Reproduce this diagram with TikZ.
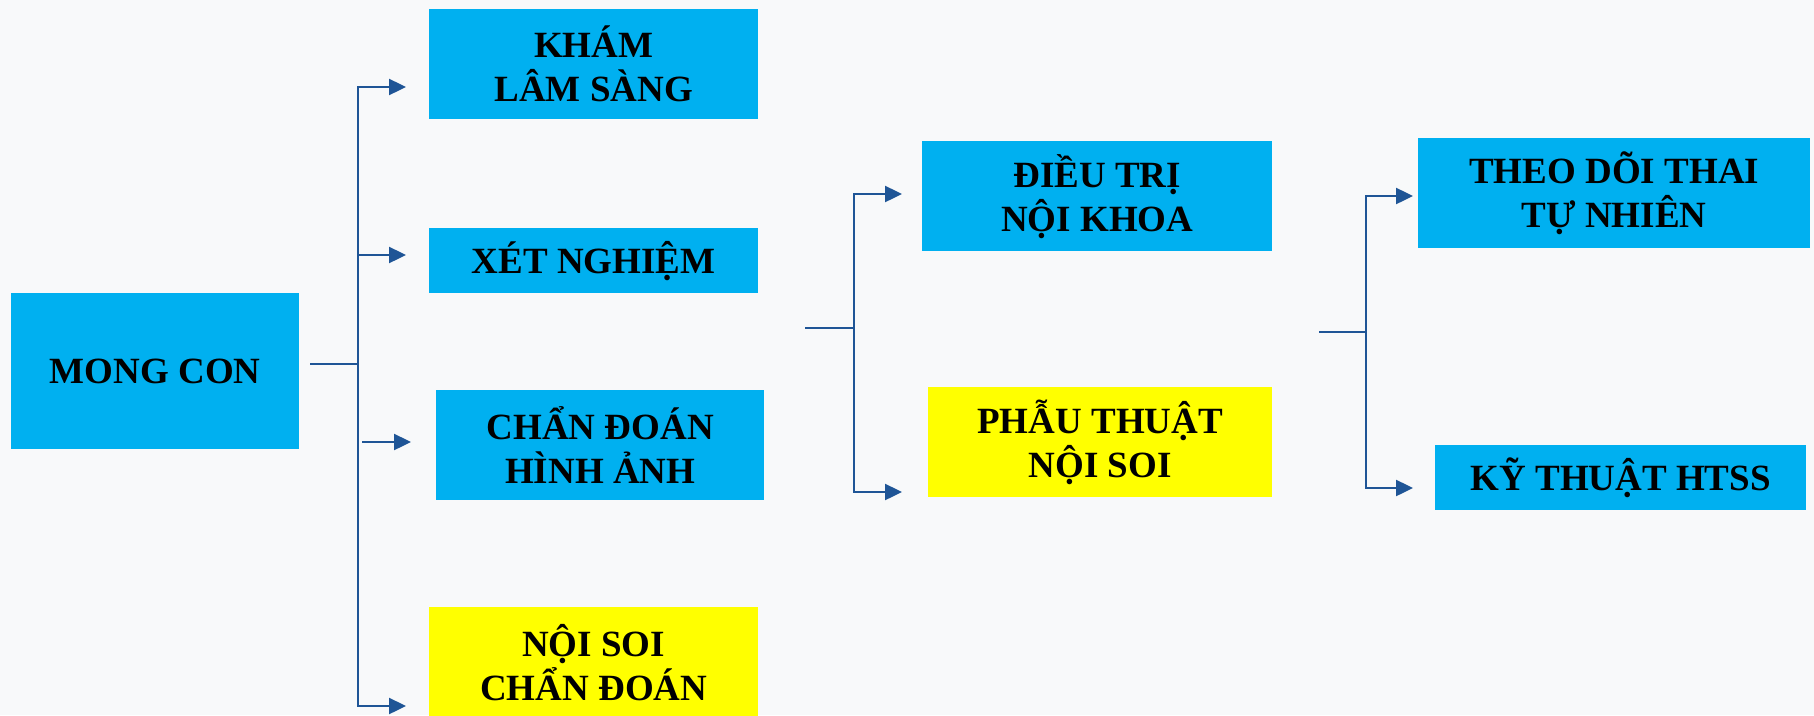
\documentclass[tikz,border=0pt]{standalone}
\usepackage{fontspec}
\setmainfont{Liberation Serif}
\usetikzlibrary{arrows.meta}
\definecolor{boxblue}{HTML}{00B0F0}
\definecolor{boxyellow}{HTML}{FFFF00}
\definecolor{linkblue}{HTML}{1F5596}
\definecolor{bgcol}{HTML}{F8F9FA}
\begin{document}
\begin{tikzpicture}[x=1pt,y=-1pt,
  box/.style={draw=none, inner sep=0pt, align=center, anchor=north west,
    font=\fontsize{37}{44}\selectfont\bfseries, text=black},
  bluebox/.style={box, fill=boxblue},
  yellowbox/.style={box, fill=boxyellow},
  stub/.style={draw=linkblue, line width=1.6pt},
  trunk/.style={draw=linkblue, line width=2.4pt, line cap=rect},
  arr/.style={draw=linkblue, line width=2.4pt, -{Triangle[length=17pt,width=16pt]}}]
\useasboundingbox (0,0) rectangle (1814,715);
\clip (0,0) rectangle (1814,715);
\fill[bgcol] (0,0) rectangle (1814,715);

% boxes
\node[bluebox, minimum width=288pt, minimum height=156pt] (mong) at (11,293) {MONG CON};
\node[bluebox, minimum width=329pt, minimum height=110pt] (kham) at (429,9) {KHÁM\\LÂM SÀNG};
\node[bluebox, minimum width=329pt, minimum height=65pt] (xet) at (429,228) {XÉT NGHIỆM};
\node[bluebox, minimum width=328pt, minimum height=110pt] (chan) at (436,390) {CHẨN ĐOÁN\\HÌNH ẢNH};
\node[yellowbox, minimum width=329pt, minimum height=110pt] (noisoi) at (429,607) {NỘI SOI\\CHẨN ĐOÁN};
\node[bluebox, minimum width=350pt, minimum height=110pt] (dieutri) at (922,141) {ĐIỀU TRỊ\\NỘI KHOA};
\node[yellowbox, minimum width=344pt, minimum height=110pt] (phau) at (928,387) {PHẪU THUẬT\\NỘI SOI};
\node[bluebox, minimum width=392pt, minimum height=110pt] (theo) at (1418,138) {THEO DÕI THAI\\TỰ NHIÊN};
\node[bluebox, minimum width=371pt, minimum height=65pt] (ky) at (1435,445) {KỸ THUẬT HTSS};

% group 1
\coordinate (s1) at (310,364);
\coordinate (j1) at (358,364);
\coordinate (a1) at (358,87);
\coordinate (a2) at (358,255);
\coordinate (a3) at (362,442);
\coordinate (a4) at (358,706);
\draw[stub] (s1) -- (j1);
\draw[trunk] (a1) -- (a4);
\draw[arr, shorten >=23pt] (a1) -- (a1 -| kham.west);
\draw[arr, shorten >=23pt] (a2) -- (a2 -| xet.west);
\draw[arr, shorten >=25pt] (a3) -- (a3 -| chan.west);
\draw[arr, shorten >=23pt] (a4) -- (a4 -| noisoi.west);

% group 2
\coordinate (s2) at (805,328);
\coordinate (j2) at (854,328);
\coordinate (b1) at (854,194);
\coordinate (b2) at (854,492);
\draw[stub] (s2) -- (j2);
\draw[trunk] (b1) -- (b2);
\draw[arr, shorten >=20pt] (b1) -- (b1 -| dieutri.west);
\draw[arr, shorten >=26pt] (b2) -- (b2 -| phau.west);

% group 3
\coordinate (s3) at (1319,332);
\coordinate (j3) at (1366,332);
\coordinate (c1) at (1366,196);
\coordinate (c2) at (1366,488);
\draw[stub] (s3) -- (j3);
\draw[trunk] (c1) -- (c2);
\draw[arr, shorten >=5pt] (c1) -- (c1 -| theo.west);
\draw[arr, shorten >=22pt] (c2) -- (c2 -| ky.west);
\end{tikzpicture}
\end{document}
